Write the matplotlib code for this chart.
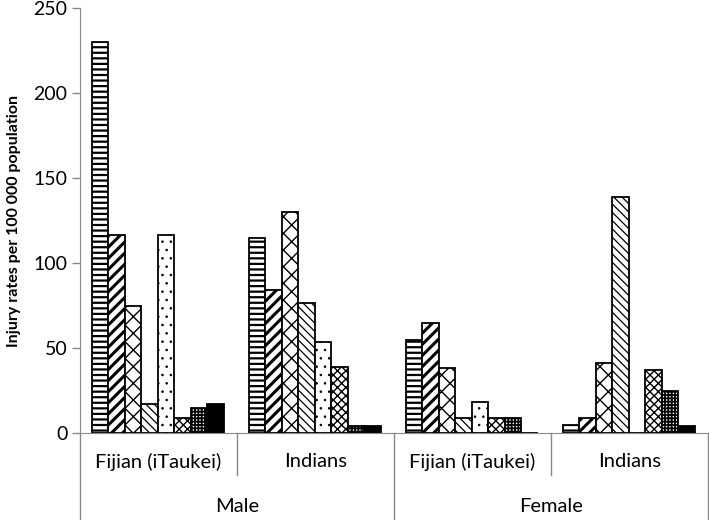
import numpy as np
import matplotlib
matplotlib.use("Agg")
from matplotlib import pyplot as plt
from matplotlib.transforms import blended_transform_factory

plt.rcParams['font.family'] = ['Lato', 'DejaVu Sans']
plt.rcParams['hatch.linewidth'] = 1.0

# groups: Male Fijian, Male Indians, Female Fijian, Female Indians
ethnic = ["Fijian (iTaukei)", "Indians", "Fijian (iTaukei)", "Indians"]
sexes = ["Male", "Female"]

# eight injury categories (one series each), values per group
s1 = [230, 115, 55, 4.5]
s2 = [116.5, 84, 65, 9]
s3 = [75, 130, 38, 41]
s4 = [17, 76.5, 9, 139]
s5 = [116.5, 53.5, 18, 0]
s6 = [9, 39, 9, 37]
s7 = [14.5, 4, 9, 25]
s8 = [17, 4, 0, 4]
series = [s1, s2, s3, s4, s5, s6, s7, s8]

hatches = ['---', '///', 'xx', '\\\\\\\\', '..', 'xxxx', '+++++', '']
hatch_lw = [1.6, 2.2, 1.0, 0.9, 0.6, 1.0, 1.3, 1.0]
faces = ['white'] * 7 + ['black']

fig = plt.figure(figsize=(7.09, 5.2), dpi=100)
ax = fig.add_axes([0.1128, 0.1673, 0.8858, 0.8173])

x = np.arange(len(ethnic))
w = 0.105
start = 0.076
for i, vals in enumerate(series):
    bars = ax.bar(x + start + i * w, vals, width=w, align='edge',
                  color=faces[i], edgecolor='black', linewidth=1.3,
                  hatch=hatches[i])
    for b in bars:
        if hasattr(b, 'set_hatch_linewidth'):
            b.set_hatch_linewidth(hatch_lw[i])

grey = '#888888'
ax.set_xlim(0, 4)
ax.set_ylim(0, 250)
ax.set_yticks([0, 50, 100, 150, 200, 250])
ax.set_xticks([])
for s in ['top', 'right']:
    ax.spines[s].set_visible(False)
ax.spines['left'].set_color(grey)
ax.spines['bottom'].set_color(grey)
ax.tick_params(axis='y', colors=grey, length=6, width=1, labelsize=14,
               labelcolor='black', pad=3)
ax.set_ylabel("Injury rates per 100 000 population", fontsize=11.5,
              fontweight='bold', labelpad=9)

# two-level category axis
tr = blended_transform_factory(ax.transData, ax.transAxes)
for xv in [0, 2, 4]:
    ax.plot([xv, xv], [0, -0.205], transform=tr, color=grey, lw=1,
            clip_on=False)
for xv in [1, 3]:
    ax.plot([xv, xv], [0, -0.099], transform=tr, color=grey, lw=1,
            clip_on=False)
for i, lab in enumerate(ethnic):
    ax.text(i + 0.5, -0.068, lab, transform=tr, ha='center', va='center',
            fontsize=14.5)
for i, lab in enumerate(sexes):
    ax.text(2 * i + 1, -0.174, lab, transform=tr, ha='center', va='center',
            fontsize=14.5)

fig.savefig("out.png", dpi=100)
